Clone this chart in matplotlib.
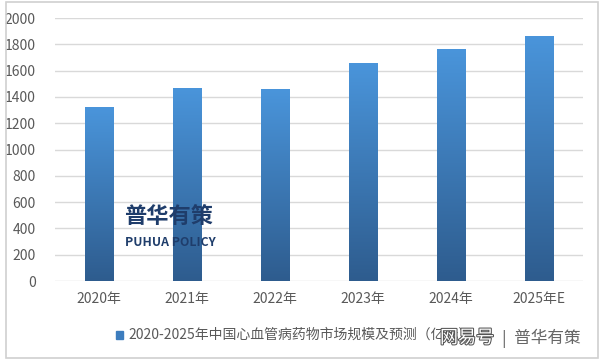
import numpy as np
import matplotlib
matplotlib.use("Agg")
import matplotlib.pyplot as plt
import matplotlib.patheffects as pe
from matplotlib.colors import LinearSegmentedColormap
from matplotlib.patches import Rectangle

plt.rcParams['font.family'] = ['Noto Sans CJK SC', 'DejaVu Sans']

years = ["2020年", "2021年", "2022年", "2023年", "2024年", "2025年E"]
market = [1320, 1470, 1460, 1660, 1765, 1865]
yticks = [0, 200, 400, 600, 800, 1000, 1200, 1400, 1600, 1800, 2000]
legend_label = "2020-2025年中国心血管病药物市场规模及预测（亿元）"

grey = "#595959"
cmap = LinearSegmentedColormap.from_list("bar", ["#2E5C8E", "#4A95DB"])

fig = plt.figure(figsize=(6.01, 3.61), dpi=100)
ax = fig.add_axes([0.0915, 0.2216, 0.8785, 0.7284])

x = np.arange(len(years))
bars = ax.bar(x, market, width=0.32, color="none", zorder=3)

# gradient fill clipped to each bar
grad = np.linspace(0, 1, 256).reshape(-1, 1)
for b in bars:
    x0, w, h = b.get_x(), b.get_width(), b.get_height()
    im = ax.imshow(grad, cmap=cmap, origin="lower", aspect="auto",
                   extent=[x0, x0 + w, 0, h], zorder=3, vmin=0, vmax=1)
    im.set_clip_path(b)
ax.set_xlim(-0.5, len(years) - 0.5)
ax.set_ylim(0, 2000)

ax.set_yticks(yticks)
ax.set_xticks(x)
ax.set_xticklabels(years)
ax.tick_params(length=0, labelsize=10, colors=grey, pad=8)
ax.tick_params(axis="y", pad=14)
ax.grid(axis="y", color="#D9D9D9", linewidth=1, zorder=0)
for s in ax.spines.values():
    s.set_visible(False)

# legend
fig.patches.append(Rectangle((116 / 601, 1 - 339 / 361), 7 / 601, 8 / 361,
                             transform=fig.transFigure, color="#3D7DBE"))
fig.text(128 / 601, 1 - 335 / 361, legend_label, fontsize=10, color=grey,
         va="center", ha="left")

# logo watermark
fig.text(124 / 601, 1 - 216 / 361, "普华有策", fontsize=16, fontweight="bold",
         color="#1F3D6B", va="center", ha="left", zorder=5)
fig.text(125 / 601, 1 - 242 / 361, "PUHUA POLICY", fontsize=8.8, fontweight="bold",
         color="#1F3D6B", va="center", ha="left", zorder=5)

# site watermark
fig.text(440 / 601, 1 - 338 / 361, "网易号", fontsize=13, color="white",
         va="center", ha="left", style="italic",
         path_effects=[pe.withStroke(linewidth=1.5, foreground="#555555")])
fig.text(502 / 601, 1 - 338 / 361, "|  普华有策", fontsize=12, color="#666666",
         va="center", ha="left")

# outer border
fig.patches.append(Rectangle((6 / 601, 3 / 361), 592 / 601, 356 / 361,
                             transform=fig.transFigure, fill=False,
                             edgecolor="#D0D0D0", linewidth=1.2))

fig.savefig("out.png", dpi=100)
